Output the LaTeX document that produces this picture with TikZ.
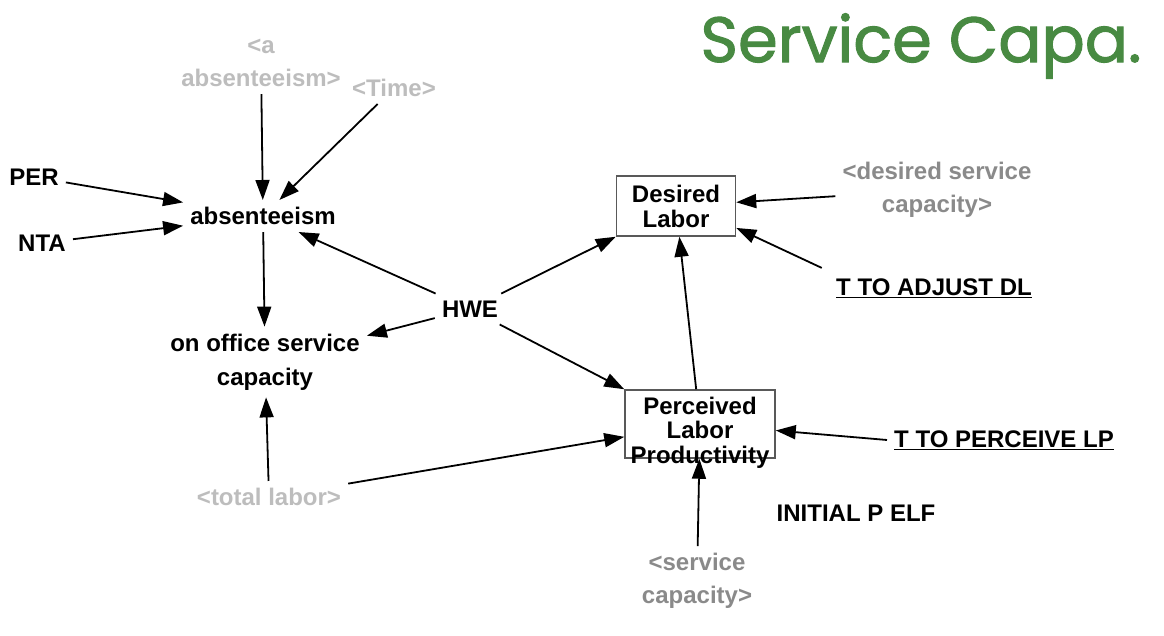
\documentclass[tikz,border=0pt]{standalone}
\usepackage{fontspec}
\setmainfont{Liberation Sans}
\newfontfamily\notefont[FakeBold=1.6]{Poppins}
\usetikzlibrary{arrows.meta, positioning}
\definecolor{shadowgray}{HTML}{BDBDBD}
\definecolor{inputgray}{HTML}{8A8A8A}
\definecolor{notegreen}{HTML}{488A42}

\begin{document}
\begin{tikzpicture}[
        x=1pt, y=-1pt,
        >={Triangle[length=20pt, width=14pt]},
        var/.style={font=\bfseries\fontsize{24}{33}\selectfont, align=center, inner sep=7pt},
        ghost/.style={var, text=shadowgray},
        shadowvar/.style={var, text=inputgray},
        level/.style={rectangle, draw=black!65, line width=1.5pt, fill=white, align=center, inner sep=2pt,
            font=\bfseries\fontsize{24}{25}\selectfont},
        link/.style={draw, ->, line width=1.8pt, black}
    ]
        \useasboundingbox (0, 0) rectangle (1164, 636);

        % ================= TITLE =================
        \node[font=\notefont\fontsize{64}{70}\selectfont, text=notegreen] (title) at (921, 46) {Service Capa.};

        % ================= ABSENTEEISM (LEFT) =================
        \node[ghost] (aabs) at (261, 63) {<a\\absenteeism>};
        \node[ghost] (time) at (394, 88) {<Time>};
        \node[var] (per) at (34, 177) {PER};
        \node[var] (nta) at (42, 243) {NTA};
        \node[var] (abs) at (263, 216) {absenteeism};
        \node[var, font=\bfseries\fontsize{24}{34}\selectfont] (oosc) at (265, 362) {on office service\\capacity};
        \node[var] (hwe) at (470, 309) {HWE};
        \node[ghost] (tl) at (269, 497) {<total labor>};

        % ================= LABOR (RIGHT) =================
        \node[level, minimum width=119pt, minimum height=60pt] (dl) at (676, 206) {Desired\\Labor};
        % text runs out of the box at the bottom, as in the model
        \node[level, minimum width=150pt, minimum height=68pt, inner ysep=0pt,
            font=\bfseries\fontsize{24}{24}\selectfont] (plp) at (700, 424)
            {\raisebox{-16pt}[30pt][30pt]{\begin{tabular}{@{}c@{}}Perceived\\Labor\\Productivity\end{tabular}}};
        \node[shadowvar] (dsc) at (937, 190) {<desired service\\capacity>};
        \node[var] (tadl) at (934, 288) {\underline{T TO ADJUST DL}};
        \node[var] (tplp) at (1004, 440) {\underline{T TO PERCEIVE LP}};
        \node[var] (ipelf) at (856, 513) {INITIAL P ELF};
        \node[shadowvar] (sc) at (697, 581) {<service\\capacity>};

        % Conexiones
        \path[link] (aabs) -- (abs);
        \path[link] (time) -- (abs);
        \path[link] (per) -- (abs);
        \path[link] (nta) -- (abs);
        \path[link] (abs) -- (oosc);
        \path[link] (hwe) -- (abs);
        \path[link] (hwe) -- (oosc);
        \path[link] (hwe) -- (dl.south west);
        \path[link] (hwe) -- (plp.north west);
        \path[link] (tl) -- (oosc);
        \path[link] (tl) -- (plp);
        \path[link] (plp) -- (dl);
        \path[link] (dsc) -- (dl);
        \path[link, shorten <=8pt] (tadl.north west) -- (dl.-20);
        \path[link] (tplp.west) -- (plp);
        \path[link] (sc) -- (plp);

    \end{tikzpicture}
\end{document}
